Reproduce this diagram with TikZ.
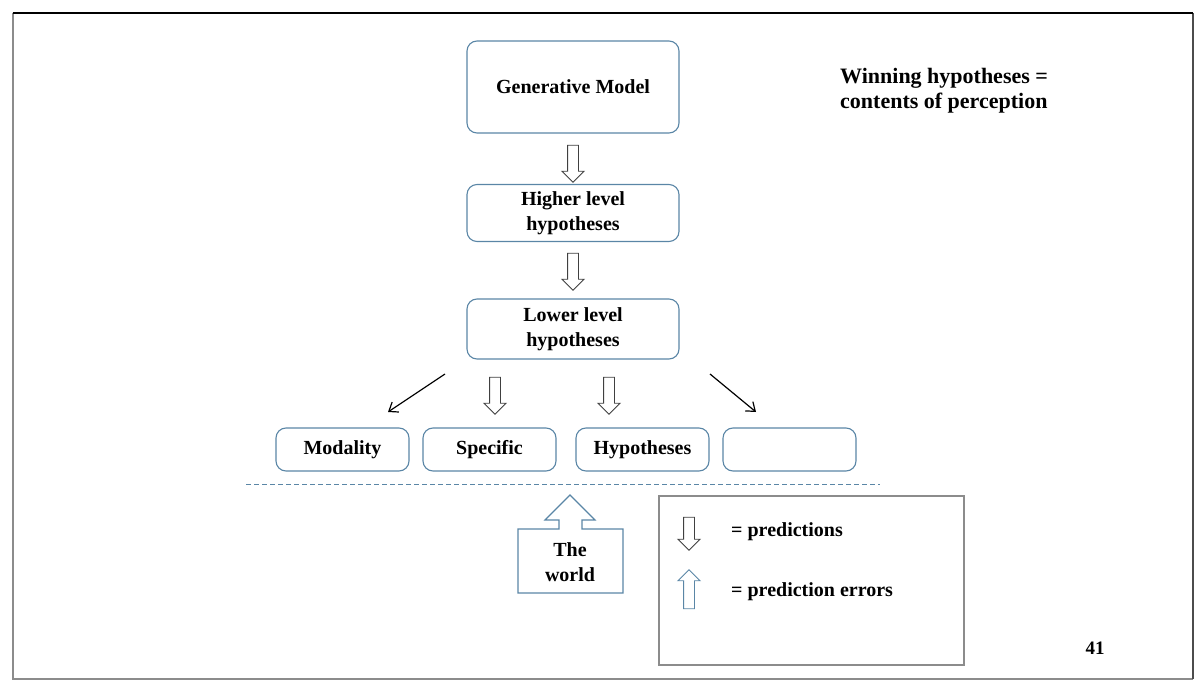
\documentclass[tikz,border=0pt]{standalone}
\usepackage{fontspec}
\setmainfont{Liberation Serif}
\usepackage{tikz}
\usetikzlibrary{shapes.arrows, arrows.meta}
\definecolor{boxblue}{HTML}{5A86A6}
\definecolor{framegray}{HTML}{8C8C8C}

\tikzset{
  hyp/.style={draw=boxblue, line width=1.1pt, rounded corners=10pt, align=center,
    font=\bfseries\fontsize{20}{25}\selectfont, inner sep=0pt},
  pred/.style={single arrow, draw=black!75, line width=0.9pt, fill=white,
    shape border rotate=270, minimum height=37pt, inner sep=5pt,
    single arrow head extend=5.5pt},
  err/.style={pred, draw=boxblue, shape border rotate=90},
  txt/.style={font=\bfseries\fontsize{20}{25}\selectfont, align=left, inner sep=0pt}
}

\begin{document}
\begin{tikzpicture}[x=1pt, y=-1pt]
        \useasboundingbox (0,0) rectangle (1204,692);
        % slide frame
        \draw[framegray, line width=1.5pt] (13,13) -- (13,679) -- (1193,679);
        \draw[black!70, line width=2pt] (1193,13) -- (1193,679);
        \draw[black, line width=1.5pt] (12.5,13) -- (1193,13);
        % the hierarchy
        \node[hyp, minimum width=212pt, minimum height=92pt] (gm) at (573,87) {Generative Model};
        \node[hyp, minimum width=212pt, minimum height=57pt] (hl) at (573,213) {Higher level\\hypotheses};
        \node[hyp, minimum width=212pt, minimum height=60pt] (ll) at (573,329) {Lower level\\hypotheses};
        \node[hyp, minimum width=133pt, minimum height=43pt] (mod) at (342.5,449.5) {Modality};
        \node[hyp, minimum width=133pt, minimum height=43pt] (spec) at (489.5,449.5) {Specific};
        \node[hyp, minimum width=133pt, minimum height=43pt] (hyps) at (642.5,449.5) {Hypotheses};
        \node[hyp, minimum width=133pt, minimum height=43pt] (blank) at (789.5,449.5) {};
        \node[pred] (p1) at (573,161) {};
        \node[pred] (p2) at (573,269) {};
        \node[pred] (p3) at (495,393) {};
        \node[pred] (p4) at (609,393) {};
        \coordinate (dla) at (445,374);
        \coordinate (dlb) at (388,412);
        \coordinate (dra) at (710,374);
        \coordinate (drb) at (756,412);
        \draw[-{Straight Barb[length=8pt,width=12pt]}, line width=1.2pt] (dla) -- (dlb);
        \draw[-{Straight Barb[length=8pt,width=12pt]}, line width=1.2pt] (dra) -- (drb);
        \draw[boxblue, line width=1pt, dash pattern=on 5pt off 3pt] (246,484) -- (880,484);
        % the world pushes up
        \draw[boxblue, line width=1.1pt] (518,529) -- (559,529) -- (559,520) -- (545,520) -- (570,495)
            -- (595,520) -- (582,520) -- (582,529) -- (623,529) -- (623,593) -- (518,593) -- cycle;
        \node[txt, align=center] (world) at (570,562) {The\\world};
        % legend
        \draw[framegray, line width=1.2pt] (659,496) rectangle (964,665);
        \node[pred, minimum height=33pt] (lp) at (689,531) {};
        \node[txt, anchor=west] (lpt) at (731,532) {= predictions};
        \node[err, minimum height=39pt] (le) at (689,592) {};
        \node[txt, anchor=west] (let) at (731,592) {= prediction errors};
        \node[txt, anchor=west, font=\bfseries\fontsize{22}{25}\selectfont] (win) at (840,91) {Winning hypotheses =\\contents of perception};
        \node[font=\bfseries\fontsize{19}{20}\selectfont] (pg) at (1095,648) {41};
\end{tikzpicture}
\end{document}
